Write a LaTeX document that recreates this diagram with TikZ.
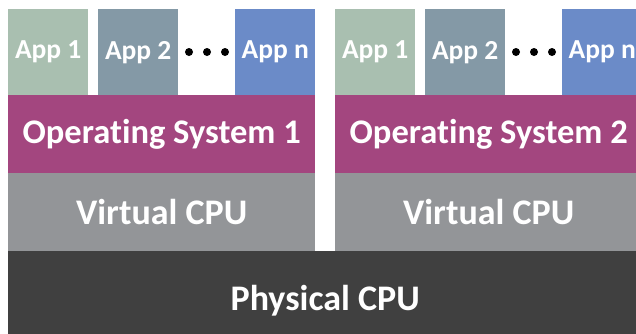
\documentclass[tikz,border=0pt]{standalone}
\usepackage{fontspec}
\setmainfont{Carlito}[Ligatures=NoCommon]

\definecolor{appone}{HTML}{A9BFB0}
\definecolor{apptwo}{HTML}{8499A6}
\definecolor{appn}{HTML}{6B8BC8}
\definecolor{oscol}{HTML}{A3467F}
\definecolor{vcpu}{HTML}{939598}
\definecolor{pcpu}{HTML}{404040}

\begin{document}
\begin{tikzpicture}[x=1pt,y=-1pt,
    box/.style={fill=#1,text=white,inner sep=0pt,anchor=north west},
    app/.style={box=#1,minimum width=80pt,minimum height=86pt,
            font=\bfseries\fontsize{27.5}{27.5}\selectfont},
    layer/.style={box=#1,minimum width=307pt,minimum height=78pt,
            font=\bfseries\fontsize{34.5}{34.5}\selectfont},
    dot/.style={circle,fill=black,inner sep=0pt,minimum size=8pt}]
    \useasboundingbox (0,0) rectangle (636,333);
    \clip (0,0) rectangle (636,333);
    % one stack per virtual machine
    \foreach \s/\x in {1/8,2/335}{
        \node[app=appone] (appa\s) at (\x,9) {App 1};
        \node[app=apptwo] (appb\s) at (\x+90,9) {App 2};
        \node[app=appn] (appn\s) at (\x+227,9) {App n};
        \node[dot] (dota\s) at (\x+181,52) {};
        \node[dot] (dotb\s) at (\x+199,52) {};
        \node[dot] (dotc\s) at (\x+217,52) {};
        \node[layer=oscol] (os\s) at (\x,95) {Operating System \s};
        \node[layer=vcpu,font=\bfseries\fontsize{36}{36}\selectfont] (vcpu\s) at (\x,173) {Virtual CPU};
    }
    % host layer runs off the page at the bottom and right
    \node[box=pcpu,minimum width=634pt,minimum height=98pt,
        font=\bfseries\fontsize{36}{36}\selectfont] (pcpu) at (8,251) {Physical CPU};
\end{tikzpicture}
\end{document}
